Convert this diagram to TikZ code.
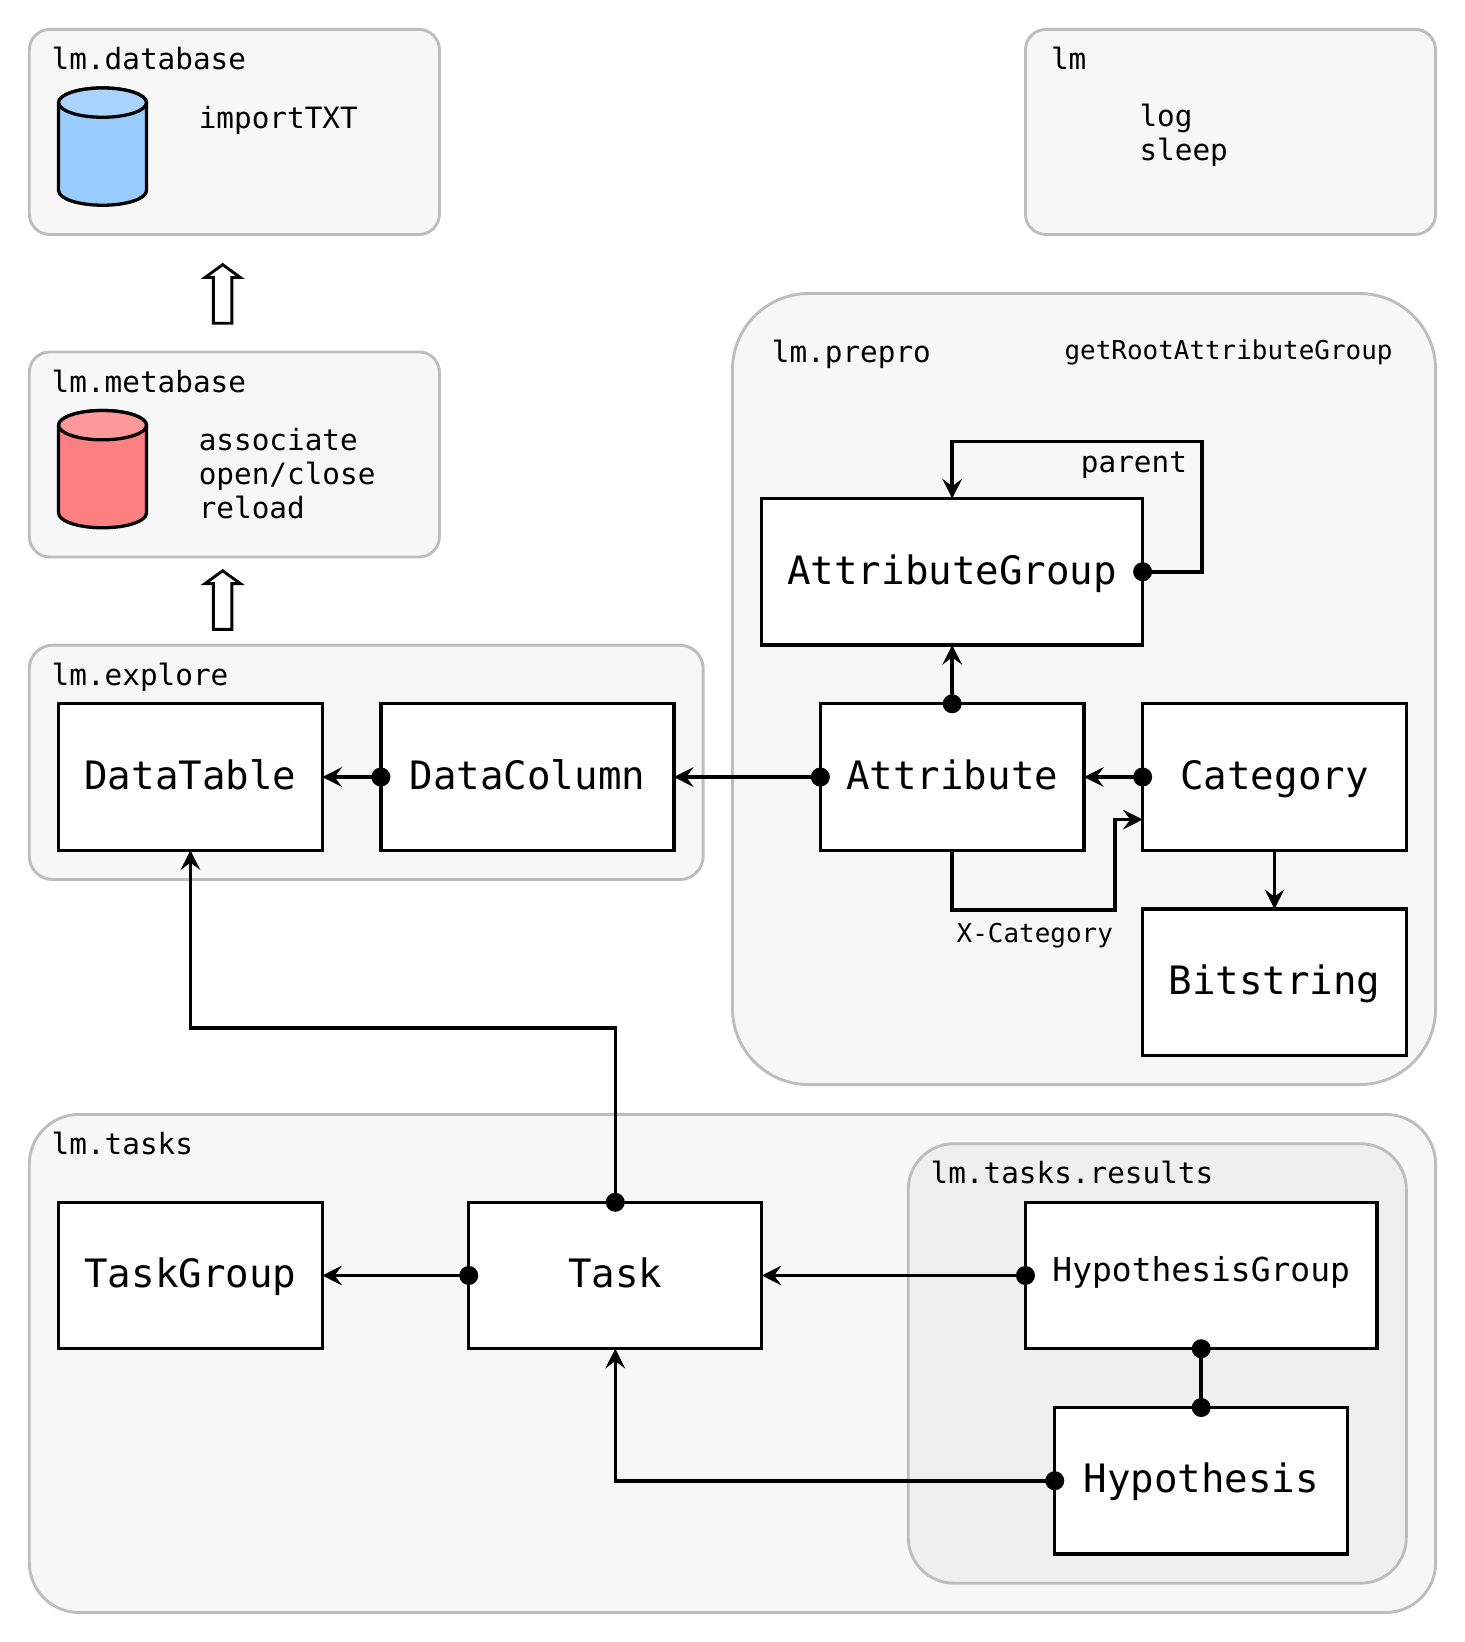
\documentclass[tikz,border=0pt]{standalone}
\usepackage{fontspec}
\setmainfont{DejaVu Sans Mono}
\usetikzlibrary{arrows.meta,shapes.arrows}
\definecolor{pkgline}{HTML}{BDBDBD}
\definecolor{pkgfill}{HTML}{F7F7F7}
\definecolor{subfill}{HTML}{EFEFEF}
\definecolor{bluebody}{HTML}{99CCFF}
\definecolor{bluetop}{HTML}{AAD4FF}
\definecolor{redbody}{HTML}{FF8080}
\definecolor{redtop}{HTML}{FF9999}
\tikzset{
	pkgbox/.style={draw=pkgline,fill=pkgfill,line width=1.4pt,rounded corners=.35cm,outer sep=0pt,inner sep=0pt},
	classbox/.style={draw,fill=white,line width=1.6pt,outer sep=0pt,inner sep=0pt,minimum height=2.5cm,font=\fontsize{19}{22}\selectfont,text height=12pt,text depth=0pt},
	pkglabel/.style={anchor=base west,inner sep=0pt,align=left,font=\fontsize{14.25}{16.5}\selectfont},
	smalllabel/.style={anchor=base west,inner sep=0pt,font=\fontsize{12.6}{15}\selectfont},
	link/.style={line width=1.7pt,-{Stealth[length=9.5pt,width=9.5pt,inset=3.5pt]}},
	assoc/.style={line width=1.7pt,{Circle[length=9.2pt]}-{Stealth[length=9.5pt,width=9.5pt,inset=3.5pt]},shorten <=-4.6pt},
	assocboth/.style={line width=1.7pt,{Circle[length=9.2pt]}-{Circle[length=9.2pt]},shorten <=-4.6pt,shorten >=-4.6pt},
	store/.style={draw,line width=1.6pt},
	uparrow/.style={draw,fill=white,line width=1.4pt,single arrow,shape border rotate=90,single arrow tip angle=108,single arrow head extend=4.1pt,minimum height=1cm,inner sep=3.8pt,outer sep=0pt},
}
\begin{document}
\begin{tikzpicture}[x=.5cm,y=-.5004cm]
	\useasboundingbox (0,0) rectangle (50,56);
	% packages
	\node (pkgdatabase) [pkgbox,minimum width=7cm,minimum height=3.5cm] at (8,4.5) {};
	\node (pkglm) [pkgbox,minimum width=7cm,minimum height=3.5cm] at (42,4.5) {};
	\node (pkgmetabase) [pkgbox,minimum width=7cm,minimum height=3.5cm] at (8,15.5) {};
	\node (pkgexplore) [pkgbox,rounded corners=.4cm,minimum width=11.5cm,minimum height=4cm] at (12.5,26) {};
	\node (pkgprepro) [pkgbox,rounded corners=1.3cm,minimum width=12cm,minimum height=13.5cm] at (37,23.5) {};
	\node (pkgtasks) [pkgbox,rounded corners=.85cm,minimum width=24cm,minimum height=8.5cm] at (25,46.5) {};
	\node (pkgresults) [pkgbox,fill=subfill,rounded corners=.78cm,minimum width=8.5cm,minimum height=7.5cm] at (39.5,46.5) {};

	% package names and functions
	\node [pkglabel] at (1.75,2.37) {lm.database};
	\node [pkglabel] at (35.86,2.37) {lm};
	\node [pkglabel] at (6.77,4.37) {importTXT};
	\node [pkglabel] at (38.88,5.47) {log\\sleep};
	\node [pkglabel] at (1.75,13.37) {lm.metabase};
	\node [pkglabel] at (6.77,17.68) {associate\\open/close\\reload};
	\node [pkglabel] at (1.75,23.37) {lm.explore};
	\node [pkglabel] at (26.33,12.37) {lm.prepro};
	\node [smalllabel] at (36.32,12.25) {getRootAttributeGroup};
	\node [pkglabel] at (36.88,16.1) {parent};
	\node [smalllabel] at (32.64,32.15) {X-Category};
	\node [pkglabel] at (1.75,39.37) {lm.tasks};
	\node [pkglabel] at (31.75,40.37) {lm.tasks.results};

	% databases
	\draw [store,fill=bluebody] (2,3.5) -- (2,6.5) arc[start angle=180,end angle=360,x radius=.75cm,y radius=.25cm] -- (5,3.5) arc[start angle=0,end angle=180,x radius=.75cm,y radius=.25cm];
	\draw [store,fill=bluetop] (3.5,3.5) ellipse[x radius=.75cm,y radius=.25cm];
	\draw [store,fill=redbody] (2,14.5) -- (2,17.5) arc[start angle=180,end angle=360,x radius=.75cm,y radius=.25cm] -- (5,14.5) arc[start angle=0,end angle=180,x radius=.75cm,y radius=.25cm];
	\draw [store,fill=redtop] (3.5,14.5) ellipse[x radius=.75cm,y radius=.25cm];
	\node (uptodatabase) [uparrow] at (7.6,10.14) {};
	\node (uptometabase) [uparrow] at (7.6,20.58) {};

	% classes
	\node (attrgroup) [classbox,minimum width=6.5cm] at (32.5,19.5) {AttributeGroup};
	\node (attribute) [classbox,minimum width=4.5cm] at (32.5,26.5) {Attribute};
	\node (category) [classbox,minimum width=4.5cm] at (43.5,26.5) {Category};
	\node (bitstring) [classbox,minimum width=4.5cm] at (43.5,33.5) {Bitstring};
	\node (datatable) [classbox,minimum width=4.5cm] at (6.5,26.5) {DataTable};
	\node (datacolumn) [classbox,minimum width=5cm] at (18,26.5) {DataColumn};
	\node (taskgroup) [classbox,minimum width=4.5cm] at (6.5,43.5) {TaskGroup};
	\node (task) [classbox,minimum width=5cm] at (21,43.5) {Task};
	\node (hypgroup) [classbox,minimum width=6cm,font=\fontsize{16}{19}\selectfont,text height=5.6pt] at (41,43.5) {HypothesisGroup};
	\node (hypothesis) [classbox,minimum width=5cm,text height=11.4pt] at (41,50.5) {Hypothesis};

	% bends
	\coordinate (parentcorner) at (41.03,15.05);
	\coordinate (xcatlow) at (38.05,31.03);
	\coordinate (xcatin) at (39,27.95);
	\coordinate (taskbend) at (14,35.06);

	% connectors
	\draw [assoc] (attrgroup.east) -| (parentcorner) -| (attrgroup.north);
	\draw [assoc] (attribute.north) -- (attrgroup.south);
	\draw [assoc] (category.west) -- (attribute.east);
	\draw [assoc] (attribute.west) -- (datacolumn.east);
	\draw [assoc] (datacolumn.west) -- (datatable.east);
	\draw [link] (attribute.south) |- (xcatlow) |- (xcatin);
	\draw [link] (category.south) -- (bitstring.north);
	\draw [assoc] (task.north) |- (taskbend) -| (datatable.south);
	\draw [assoc] (task.west) -- (taskgroup.east);
	\draw [assoc] (hypgroup.west) -- (task.east);
	\draw [assocboth] (hypgroup.south) -- (hypothesis.north);
	\draw [assoc] (hypothesis.west) -| (task.south);
\end{tikzpicture}
\end{document}
